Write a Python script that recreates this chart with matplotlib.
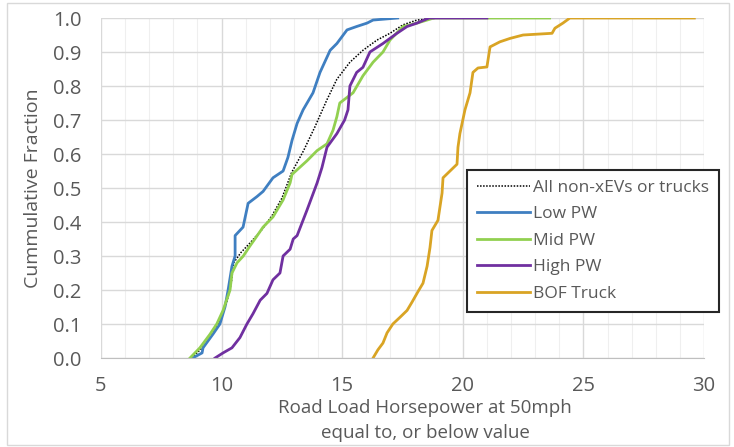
import matplotlib
matplotlib.use('Agg')
import matplotlib.pyplot as plt
from matplotlib.patches import Rectangle

plt.rcParams['font.family'] = ['Open Sans', 'DejaVu Sans']

# cumulative fraction curves
all_x = [8.75, 9.2, 9.6, 9.95, 10.2, 10.4, 10.5, 10.8, 11.2, 11.7, 12.1, 12.5, 12.9, 13.4, 13.87,
         14.37, 14.78, 15.32, 15.86, 16.44, 16.98, 17.52, 18.1, 19.0, 23.6]
all_y = [0, 0.03, 0.07, 0.11, 0.16, 0.22, 0.28, 0.31, 0.34, 0.38, 0.42, 0.47, 0.545, 0.61, 0.68,
         0.76, 0.82, 0.87, 0.905, 0.935, 0.955, 0.98, 0.994, 1.0, 1.0]

low_x = [8.8, 9.19, 9.23, 9.64, 9.93, 10.14, 10.27, 10.43, 10.56, 10.56, 10.89, 11.1, 11.47, 11.72,
         12.13, 12.55, 12.75, 12.92, 13.13, 13.38, 13.79, 14.08, 14.5, 14.78, 15.2, 15.6, 16.03,
         16.28, 17.3]
low_y = [0, 0.015, 0.03, 0.07, 0.10, 0.15, 0.20, 0.27, 0.30, 0.36, 0.385, 0.455, 0.475, 0.49,
         0.53, 0.55, 0.59, 0.64, 0.69, 0.73, 0.78, 0.84, 0.905, 0.925, 0.965, 0.975, 0.985,
         0.994, 1.0]

mid_x = [8.69, 9.1, 9.52, 9.8, 10.06, 10.35, 10.43, 10.64, 10.9, 11.18, 11.38, 11.72, 12.13, 12.55,
         12.84, 12.92, 13.54, 13.96, 14.37, 14.62, 14.78, 14.9, 15.45, 15.86, 16.28, 16.69, 16.98,
         17.52, 18.1, 18.8, 23.6]
mid_y = [0, 0.03, 0.07, 0.10, 0.14, 0.20, 0.25, 0.28, 0.30, 0.33, 0.35, 0.385, 0.415, 0.465,
         0.515, 0.54, 0.58, 0.61, 0.63, 0.67, 0.71, 0.75, 0.78, 0.83, 0.87, 0.90, 0.935,
         0.975, 0.985, 1.0, 1.0]

high_x = [9.73, 10.06, 10.43, 10.76, 11.05, 11.3, 11.6, 11.88, 12.13, 12.42, 12.55, 12.84, 12.97,
          13.13, 13.54, 13.96, 14.16, 14.37, 14.78, 15.1, 15.24, 15.32, 15.6, 15.86, 16.15, 16.69,
          17.27, 17.69, 18.1, 18.6, 21.0]
high_y = [0, 0.015, 0.03, 0.06, 0.10, 0.13, 0.17, 0.19, 0.23, 0.25, 0.30, 0.32, 0.35,
          0.36, 0.435, 0.515, 0.56, 0.62, 0.66, 0.70, 0.73, 0.80, 0.84, 0.855, 0.90, 0.925,
          0.955, 0.975, 0.985, 1.0, 1.0]

bof_x = [16.28, 16.48, 16.69, 16.86, 17.1, 17.4, 17.69, 17.9, 18.14, 18.35, 18.52, 18.64, 18.72,
         18.97, 19.14, 19.18, 19.47, 19.76, 19.8, 19.88, 20.0, 20.09, 20.3, 20.42, 20.63, 21.0,
         21.13, 21.54, 21.96, 22.5, 23.7, 23.82, 24.15, 24.44, 29.6]
bof_y = [0, 0.024, 0.044, 0.074, 0.10, 0.12, 0.14, 0.165, 0.195, 0.22, 0.27, 0.325, 0.375,
         0.405, 0.485, 0.53, 0.55, 0.57, 0.62, 0.66, 0.70, 0.73, 0.78, 0.84, 0.853, 0.856,
         0.915, 0.93, 0.94, 0.95, 0.955, 0.97, 0.985, 1.0, 1.0]

txt = '#595959'

fig = plt.figure(figsize=(7.34, 4.47), dpi=100)
ax = fig.add_axes([101/734, 1 - 358/447, 603/734, 340/447])

ax.plot(all_x, all_y, color='black', lw=1.1, ls=(0, (1, 1)), label='All non-xEVs or trucks')
ax.plot(low_x, low_y, color='#3f7fc1', lw=2, label='Low PW')
ax.plot(mid_x, mid_y, color='#92d050', lw=2, label='Mid PW')
ax.plot(high_x, high_y, color='#7030a0', lw=2, label='High PW')
ax.plot(bof_x, bof_y, color='#d9a424', lw=2, label='BOF Truck')

ax.set_xlim(5, 30)
ax.set_ylim(0, 1)
ax.set_xticks(range(5, 31, 5))
ax.set_xticks(range(5, 31), minor=True)
ax.set_yticks([i / 10 for i in range(11)])
ax.set_yticklabels(['%.1f' % (i / 10) for i in range(11)])
ax.grid(which='major', color='#d9d9d9', lw=1)
ax.grid(which='minor', axis='x', color='#efefef', lw=0.8)
ax.set_axisbelow(True)
for s in ['top', 'right', 'left']:
    ax.spines[s].set_visible(False)
ax.spines['bottom'].set_color('#bfbfbf')
ax.tick_params(which='both', length=0, labelsize=14.5, colors=txt)
ax.tick_params(axis='x', pad=13)
ax.tick_params(axis='y', pad=14)

fig.text(425/734, 1 - 408/447, 'Road Load Horsepower at 50mph', ha='center', va='center',
         fontsize=13.5, color=txt)
fig.text(425/734, 1 - 433/447, 'equal to, or below value', ha='center', va='center',
         fontsize=13.5, color=txt)
fig.text(33/734, 1 - 188/447, 'Cummulative Fraction', ha='center', va='center',
         rotation=90, fontsize=14, color=txt)

leg = ax.legend(loc='upper left', bbox_to_anchor=(0.607, 0.453, 0.418, 0.1), mode='expand',
                borderaxespad=0, fontsize=12.5, handlelength=3.1, handletextpad=0.15,
                labelspacing=0.6, fancybox=False, framealpha=1, borderpad=0.55)
leg.get_frame().set_edgecolor('#262626')
leg.get_frame().set_linewidth(1.5)
for t in leg.get_texts():
    t.set_color(txt)

fig.patches.append(Rectangle((7/734, 2/447), 722/734, 442/447, transform=fig.transFigure,
                             fill=False, edgecolor='#d9d9d9', lw=1))

fig.savefig('out.png', dpi=100)
